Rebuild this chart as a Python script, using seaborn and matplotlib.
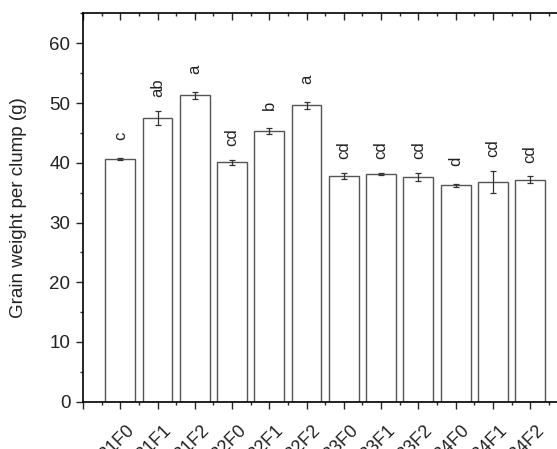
import pandas as pd
import matplotlib.pyplot as plt
import matplotlib.transforms as mtransforms
import seaborn as sns
from matplotlib.ticker import MultipleLocator

# values
treatments = ['B1F0', 'B1F1', 'B1F2', 'B2F0', 'B2F1', 'B2F2',
              'B3F0', 'B3F1', 'B3F2', 'B4F0', 'B4F1', 'B4F2']
grain_weight = [40.6, 47.5, 51.3, 40.1, 45.3, 49.6,
                37.8, 38.1, 37.6, 36.2, 36.8, 37.2]
std_err = [0.2, 1.25, 0.6, 0.4, 0.45, 0.55,
           0.47, 0.2, 0.67, 0.33, 1.9, 0.53]
letters = ['c', 'ab', 'a', 'cd', 'b', 'a',
           'cd', 'cd', 'cd', 'd', 'cd', 'cd']

df = pd.DataFrame({'treatment': treatments, 'weight': grain_weight})

sns.set_style('ticks')
plt.rcParams['font.family'] = ['Liberation Sans', 'DejaVu Sans']

fig = plt.figure(figsize=(5.57, 4.49), dpi=100)
ax = fig.add_axes([0.149, 0.1053, 0.851, 0.8647])

sns.barplot(data=df, x='treatment', y='weight', color='white',
            edgecolor='#555555', linewidth=1.0, width=0.8,
            errorbar=None, ax=ax)
ax.errorbar(range(len(treatments)), grain_weight, yerr=std_err, fmt='none',
            ecolor='#333333', elinewidth=0.9, capsize=2.5, capthick=0.9)

for i, (m, e, t) in enumerate(zip(grain_weight, std_err, letters)):
    ax.text(i, m + e + 3.8, t, rotation=90, ha='center', va='center',
            fontsize=12, color='#222222')

ax.set_xlim(-1, 11.72)
ax.set_ylim(0, 65)
ax.set_yticks(range(0, 61, 10))
ax.yaxis.set_minor_locator(MultipleLocator(5))
ax.set_xticks(range(-1, 12))
ax.set_xticklabels([''] + treatments)
ax.set_xticks([x + 0.5 for x in range(-1, 12)], minor=True)

ax.set_xlabel('')
ax.set_ylabel('Grain weight per clump (g)', fontsize=13.5, color='#222222')
ax.yaxis.set_label_coords(-0.118, 0.5)

for s in ['left', 'bottom', 'top']:
    ax.spines[s].set_linewidth(1.2)
    ax.spines[s].set_color('black')
ax.spines['right'].set_visible(False)

ax.tick_params(axis='y', which='major', direction='out', length=5, width=1,
               labelsize=13.5, pad=4, labelcolor='#222222')
ax.tick_params(axis='y', which='minor', direction='out', length=2.5, width=1)
ax.tick_params(axis='x', which='major', direction='out', length=5, width=1,
               labelsize=13, pad=9, top=True, labelcolor='#222222')
ax.tick_params(axis='x', which='minor', direction='out', length=2.5, width=1,
               top=True)
# top ticks point inward
for t in ax.xaxis.get_major_ticks() + ax.xaxis.get_minor_ticks():
    t.tick2line.set_marker(3)

shift = mtransforms.ScaledTranslation(4 / 72, 0, fig.dpi_scale_trans)
for lbl in ax.get_xticklabels():
    lbl.set_rotation(45)
    lbl.set_ha('right')
    lbl.set_va('top')
    lbl.set_rotation_mode('anchor')
    lbl.set_transform(lbl.get_transform() + shift)

fig.savefig('out.png', dpi=100)
plt.close()
